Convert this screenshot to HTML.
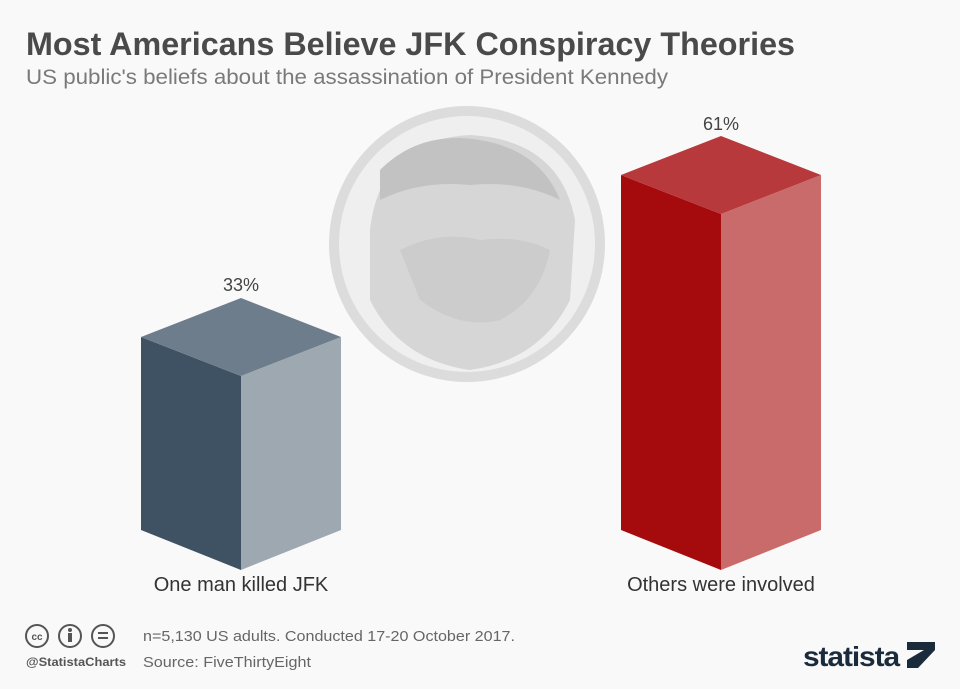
<!DOCTYPE html>
<html><head><meta charset="utf-8"><style>
body{margin:0;background:#f9f9f9;font-family:"Liberation Sans",sans-serif;}
</style></head><body>
<svg width="960" height="684" viewBox="0 0 960 684" xmlns="http://www.w3.org/2000/svg">
<rect width="960" height="684" fill="#f9f9f9"/>
<text x="26" y="55" font-size="32" font-weight="bold" fill="#4a4a4a" textLength="769" lengthAdjust="spacingAndGlyphs">Most Americans Believe JFK Conspiracy Theories</text>
<text x="26" y="84" font-size="21" fill="#7a7a7a" textLength="642" lengthAdjust="spacingAndGlyphs">US public's beliefs about the assassination of President Kennedy</text>
<!-- medallion -->
<circle cx="467" cy="244" r="138" fill="#dcdcdc"/>
<circle cx="467" cy="244" r="128" fill="#efefef"/>
<path d="M370 230 Q380 140 470 135 Q560 140 575 220 L570 300 Q540 360 470 370 Q400 360 370 300 Z" fill="#d6d6d6"/>
<path d="M400 250 Q440 230 480 240 Q520 235 550 250 Q540 300 500 320 Q460 330 420 300 Z" fill="#cccccc"/>
<path d="M380 170 Q420 130 480 140 Q540 150 560 200 Q520 180 470 185 Q420 180 380 200 Z" fill="#c2c2c2"/>
<!-- bar 1 -->
<polygon points="141,337 241,376 241,570 141,530" fill="#3e5263"/>
<polygon points="241,376 341,337 341,530 241,570" fill="#9ea8b1"/>
<polygon points="141,337 241,298 341,337 241,376" fill="#6d7d8b"/>
<!-- bar 2 -->
<polygon points="621,175 721,214 721,570 621,530" fill="#a50b0d"/>
<polygon points="721,214 821,175 821,530 721,570" fill="#c96b6b"/>
<polygon points="621,175 721,136 821,175 721,214" fill="#b7393b"/>
<text x="241" y="291" font-size="18" fill="#444" text-anchor="middle">33%</text>
<text x="721" y="130" font-size="18" fill="#444" text-anchor="middle">61%</text>
<text x="241" y="591" font-size="20" fill="#333" text-anchor="middle">One man killed JFK</text>
<text x="721" y="591" font-size="20" fill="#333" text-anchor="middle">Others were involved</text>
<!-- footer -->
<g fill="none" stroke="#555" stroke-width="2">
<circle cx="37" cy="636" r="11"/><circle cx="70" cy="636" r="11"/><circle cx="103" cy="636" r="11"/>
</g>
<text x="37" y="640" font-size="10" font-weight="bold" fill="#555" text-anchor="middle">cc</text>
<circle cx="70" cy="630" r="2" fill="#555"/><rect x="68" y="633" width="4" height="9" fill="#555"/>
<rect x="98" y="632" width="10" height="2" fill="#555"/><rect x="98" y="637" width="10" height="2" fill="#555"/>
<text x="26" y="666" font-size="12" font-weight="bold" fill="#555" textLength="100" lengthAdjust="spacingAndGlyphs">@StatistaCharts</text>
<text x="143" y="641" font-size="15" fill="#666" textLength="372" lengthAdjust="spacingAndGlyphs">n=5,130 US adults. Conducted 17-20 October 2017.</text>
<text x="143" y="667" font-size="15" fill="#666" textLength="168" lengthAdjust="spacingAndGlyphs">Source: FiveThirtyEight</text>
<text x="803" y="666" font-size="28" font-weight="bold" fill="#1a2b3c" letter-spacing="-1" textLength="96" lengthAdjust="spacingAndGlyphs">statista</text>
<polygon points="907,642 935,642 935,650 918,668 907,668 907,660 924,650 907,650" fill="#1a2b3c"/>
</svg>
</body></html>
